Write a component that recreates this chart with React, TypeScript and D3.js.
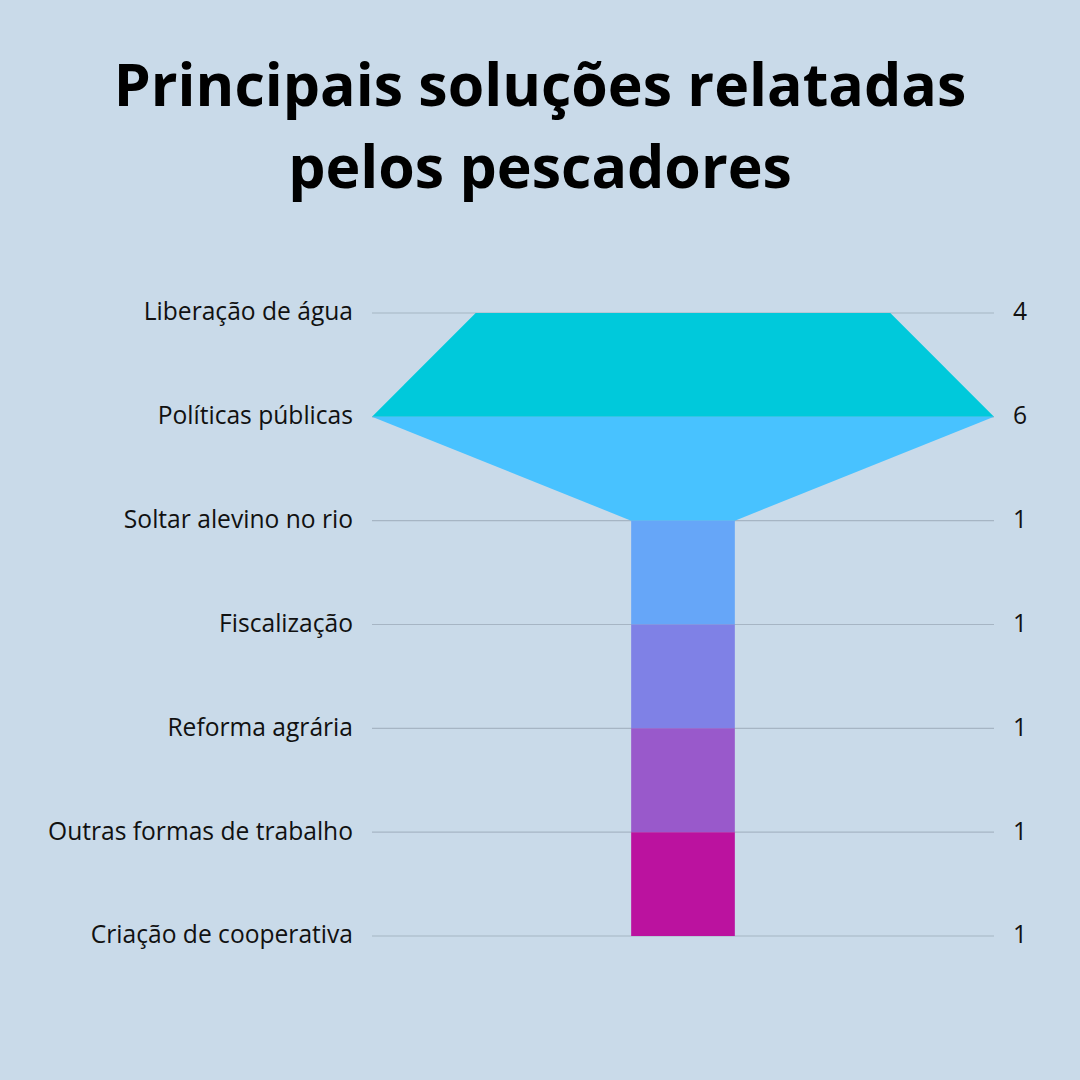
import * as React from "react";
import * as d3 from "d3";

const categories: string[] = [
  "Liberação de água",
  "Políticas públicas",
  "Soltar alevino no rio",
  "Fiscalização",
  "Reforma agrária",
  "Outras formas de trabalho",
  "Criação de cooperativa",
];
const values: number[] = [4, 6, 1, 1, 1, 1, 1];
const segmentColors: string[] = ["#00c9db", "#48c2ff", "#66a6f8", "#7f81e6", "#9959cb", "#bb129f"];
const titleLines: string[] = ["Principais soluções relatadas", "pelos pescadores"];

const W = 1080;
const H = 1080;
const left = 372;
const right = 994;
const cx = (left + right) / 2;

type Pt = { y: number; w: number };

export default function App(): JSX.Element {
  const y = d3.scalePoint<string>().domain(categories).range([313, 936]);
  const half = d3.scaleLinear().domain([0, d3.max(values) as number]).range([0, (right - left) / 2]);

  const area = d3.area<Pt>()
    .y((d) => d.y)
    .x0((d) => cx - half(d.w))
    .x1((d) => cx + half(d.w))
    .curve(d3.curveLinear);

  const segments = d3.pairs(categories.map((c, i) => ({ y: y(c) as number, w: values[i] })));

  return (
    <svg width={W} height={H} style={{ position: "absolute", left: 0, top: 0 }}>
      <rect width={W} height={H} fill="#c9dae9" />
      <g fontFamily="'Open Sans', sans-serif" fontWeight={700} fontSize={59} fill="#000" textAnchor="middle">
        {titleLines.map((t, i) => (
          <text key={t} x={540} y={106 + i * 82}>{t}</text>
        ))}
      </g>
      {categories.map((c) => (
        <line key={c} x1={left} x2={right} y1={y(c)} y2={y(c)} stroke="#a6b5c4" strokeWidth={1.2} />
      ))}
      {segments.map((s, i) => (
        <path key={i} d={area(s) as string} fill={segmentColors[i]} />
      ))}
      <g fontFamily="'Open Sans', sans-serif" fontSize={24.6} fill="#111">
        {categories.map((c, i) => (
          <g key={c}>
            <text x={353} y={y(c)} dy="0.3em" textAnchor="end">{c}</text>
            <text x={1013} y={y(c)} dy="0.3em" textAnchor="start">{values[i]}</text>
          </g>
        ))}
      </g>
    </svg>
  );
}
